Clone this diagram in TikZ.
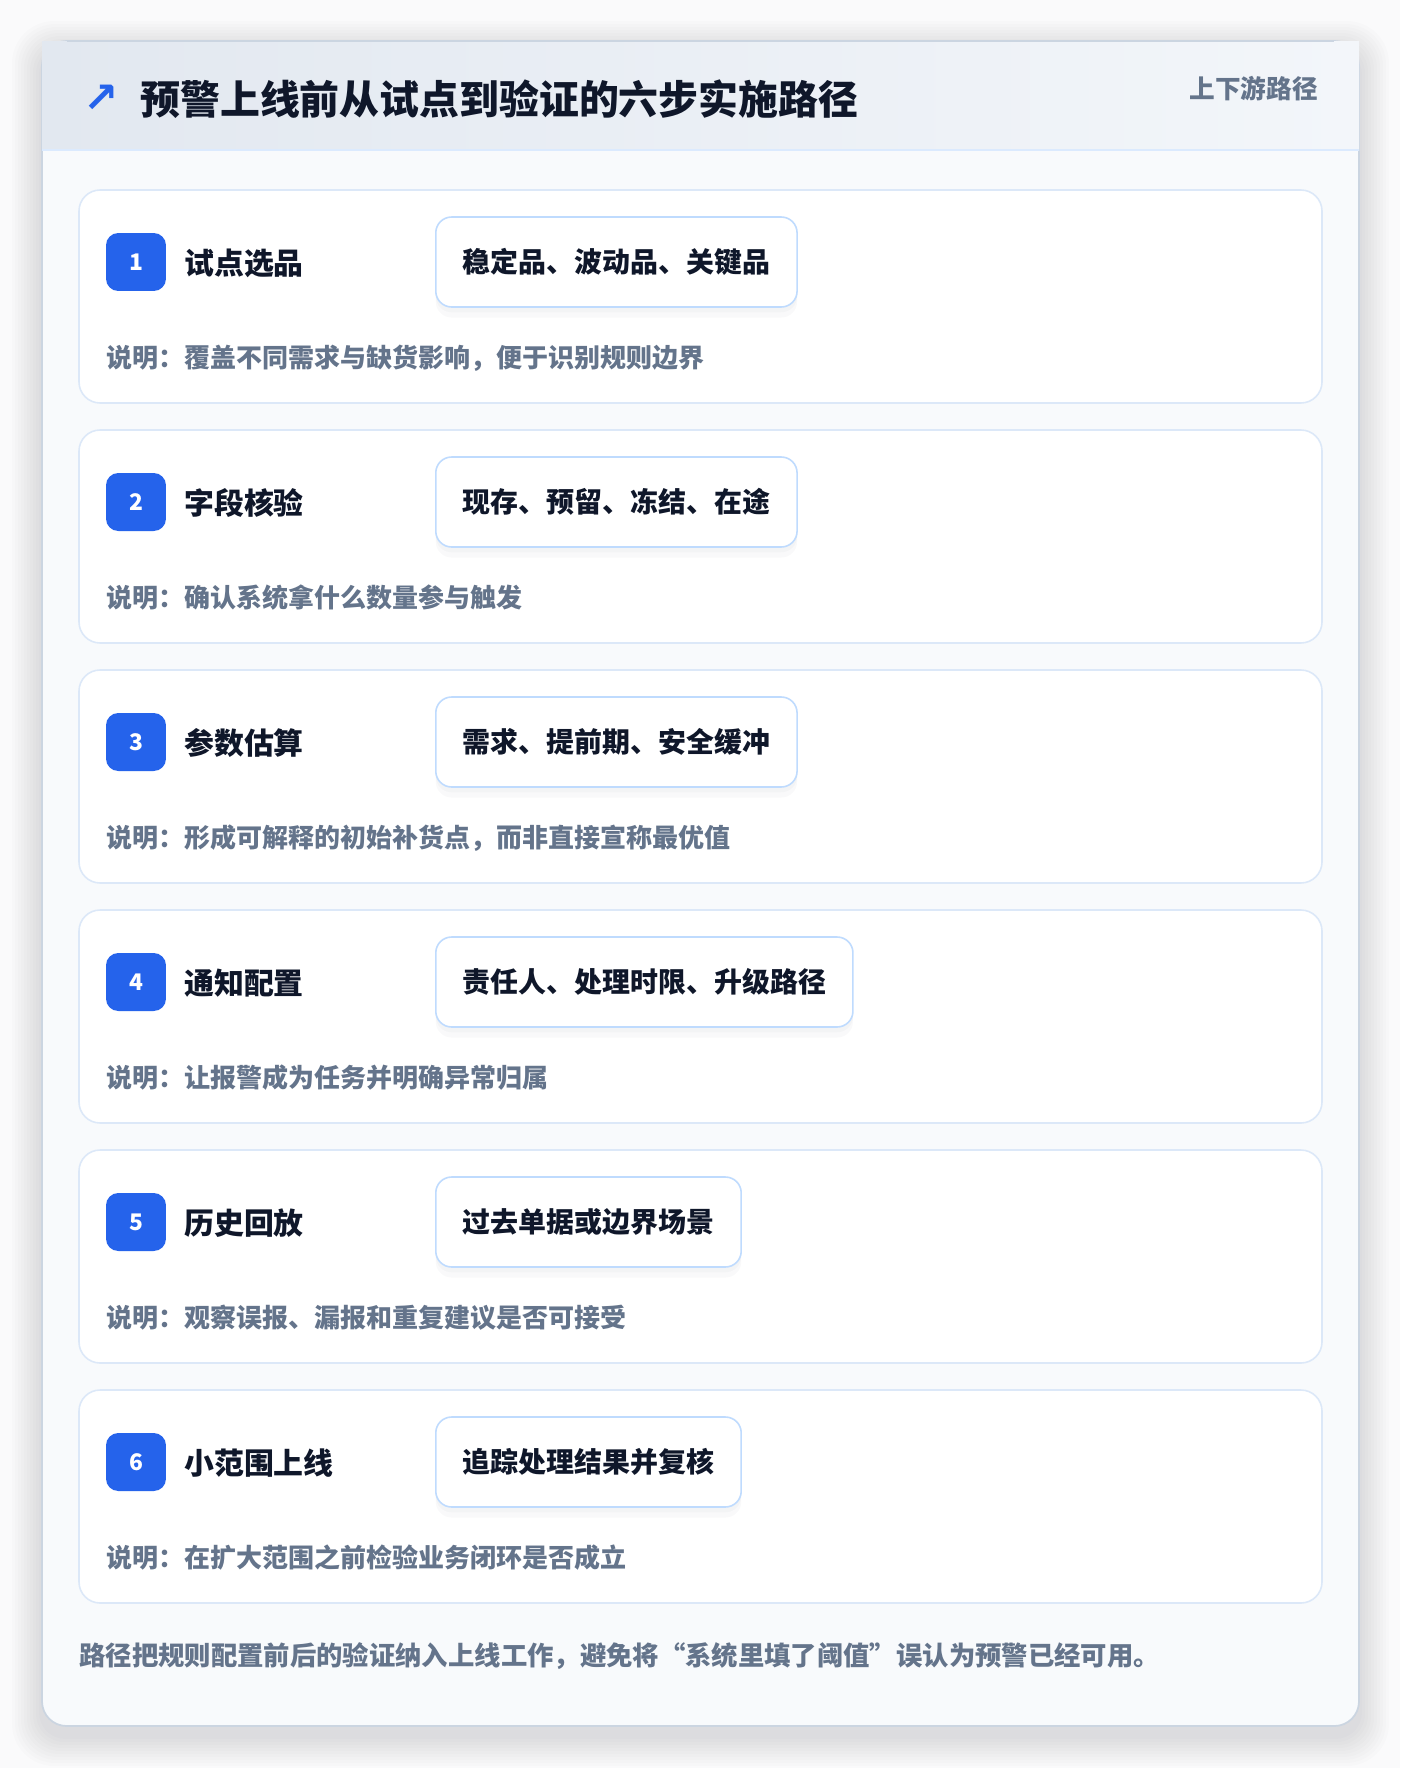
\documentclass[tikz,border=0pt]{standalone}
\usepackage{fontspec}
\setmainfont{Noto Sans CJK SC}
\newfontfamily\symfont{DejaVu Sans}

\definecolor{pagebg}{HTML}{FAFAFB}
\definecolor{bodybg}{HTML}{F8FAFC}
\definecolor{outerline}{HTML}{CBD5E1}
\definecolor{hdrleft}{HTML}{E2E8F0}
\definecolor{hdrright}{HTML}{F3F6FA}
\definecolor{hdrline}{HTML}{DBEAFE}
\definecolor{cardline}{HTML}{DCE8F8}
\definecolor{tagline}{HTML}{BFDBFE}
\definecolor{brandblue}{HTML}{2563EB}
\definecolor{inkdark}{HTML}{0F172A}
\definecolor{inkgray}{HTML}{64748B}
\definecolor{shadowcol}{HTML}{1E293B}

\begin{document}
\begin{tikzpicture}[x=0.02cm,y=-0.02cm,
    outercard/.style={draw=outerline, fill=bodybg, line width=1pt, rounded corners=14pt},
    stepcard/.style={draw=cardline, fill=white, line width=0.9pt, rounded corners=12pt},
    badge/.style={fill=brandblue, rounded corners=7pt, minimum width=1.2cm, minimum height=1.16cm,
        text=white, font=\bfseries\fontsize{13}{15}\selectfont},
    steptitle/.style={anchor=west, inner sep=0pt, text=inkdark, font=\bfseries\fontsize{17}{20}\selectfont},
    tagbox/.style={anchor=west, draw=tagline, fill=white, line width=0.9pt, rounded corners=9pt,
        inner xsep=0.54cm, minimum height=1.8cm, text=inkdark, font=\bfseries\fontsize{15.9}{19}\selectfont,
        preaction={draw=none, fill=shadowcol, fill opacity=0.025, transform canvas={yshift=-6pt}},
        preaction={draw=none, fill=shadowcol, fill opacity=0.025, transform canvas={yshift=-3pt}}},
    desc/.style={anchor=west, inner sep=0pt, text=inkgray, font=\bfseries\fontsize{14.8}{17}\selectfont}]

    % Page and card
    \fill[pagebg] (0,0) rectangle (1400,1768);
    \foreach \s in {1,...,10}
        \fill[shadowcol, opacity=0.012, rounded corners=14pt+\s pt]
            (42-3*\s,41-3*\s+10) rectangle (1359+3*\s,1726+3*\s+10);
    \draw[outercard] (42,41) rectangle (1359,1726);
    % Header
    \shade[left color=hdrleft, right color=hdrright] (42,41) rectangle (1359,150);
    \draw[outerline, line width=1pt] (67,41) -- (1334,41);
    \draw[hdrline, line width=1.2pt] (42,150) -- (1359,150);
    \node[text=brandblue, font=\symfont\bfseries\fontsize{24}{26}\selectfont] (icon) at (101,99) {↗};
    \node[anchor=west, inner sep=0pt, text=inkdark, font=\bfseries\fontsize{22.7}{26}\selectfont] (title) at (140,99) {预警上线前从试点到验证的六步实施路径};
    \node[anchor=east, inner sep=0pt, text=inkgray, font=\bfseries\fontsize{14.6}{17}\selectfont] (route) at (1318,89) {上下游路径};

    % Step 1
    \draw[stepcard] (79,190) rectangle (1322,403);
    \node[badge] (b1) at (136,262) {1};
    \node[steptitle] (t1) at (184,263) {试点选品};
    \node[tagbox] (g1) at (435,262) {稳定品、波动品、关键品};
    \node[desc] (d1) at (106,358) {说明：覆盖不同需求与缺货影响，便于识别规则边界};

    % Step 2
    \draw[stepcard] (79,430) rectangle (1322,643);
    \node[badge] (b2) at (136,502) {2};
    \node[steptitle] (t2) at (184,503) {字段核验};
    \node[tagbox] (g2) at (435,502) {现存、预留、冻结、在途};
    \node[desc] (d2) at (106,598) {说明：确认系统拿什么数量参与触发};

    % Step 3
    \draw[stepcard] (79,670) rectangle (1322,883);
    \node[badge] (b3) at (136,742) {3};
    \node[steptitle] (t3) at (184,743) {参数估算};
    \node[tagbox] (g3) at (435,742) {需求、提前期、安全缓冲};
    \node[desc] (d3) at (106,838) {说明：形成可解释的初始补货点，而非直接宣称最优值};

    % Step 4
    \draw[stepcard] (79,910) rectangle (1322,1123);
    \node[badge] (b4) at (136,982) {4};
    \node[steptitle] (t4) at (184,983) {通知配置};
    \node[tagbox] (g4) at (435,982) {责任人、处理时限、升级路径};
    \node[desc] (d4) at (106,1078) {说明：让报警成为任务并明确异常归属};

    % Step 5
    \draw[stepcard] (79,1150) rectangle (1322,1363);
    \node[badge] (b5) at (136,1222) {5};
    \node[steptitle] (t5) at (184,1223) {历史回放};
    \node[tagbox] (g5) at (435,1222) {过去单据或边界场景};
    \node[desc] (d5) at (106,1318) {说明：观察误报、漏报和重复建议是否可接受};

    % Step 6
    \draw[stepcard] (79,1390) rectangle (1322,1603);
    \node[badge] (b6) at (136,1462) {6};
    \node[steptitle] (t6) at (184,1463) {小范围上线};
    \node[tagbox] (g6) at (435,1462) {追踪处理结果并复核};
    \node[desc] (d6) at (106,1558) {说明：在扩大范围之前检验业务闭环是否成立};

    % Footer note
    \node[desc, font=\bfseries\fontsize{15}{17}\selectfont] (note) at (79,1656) {路径把规则配置前后的验证纳入上线工作，避免将“系统里填了阈值”误认为预警已经可用。};

\end{tikzpicture}
\end{document}
